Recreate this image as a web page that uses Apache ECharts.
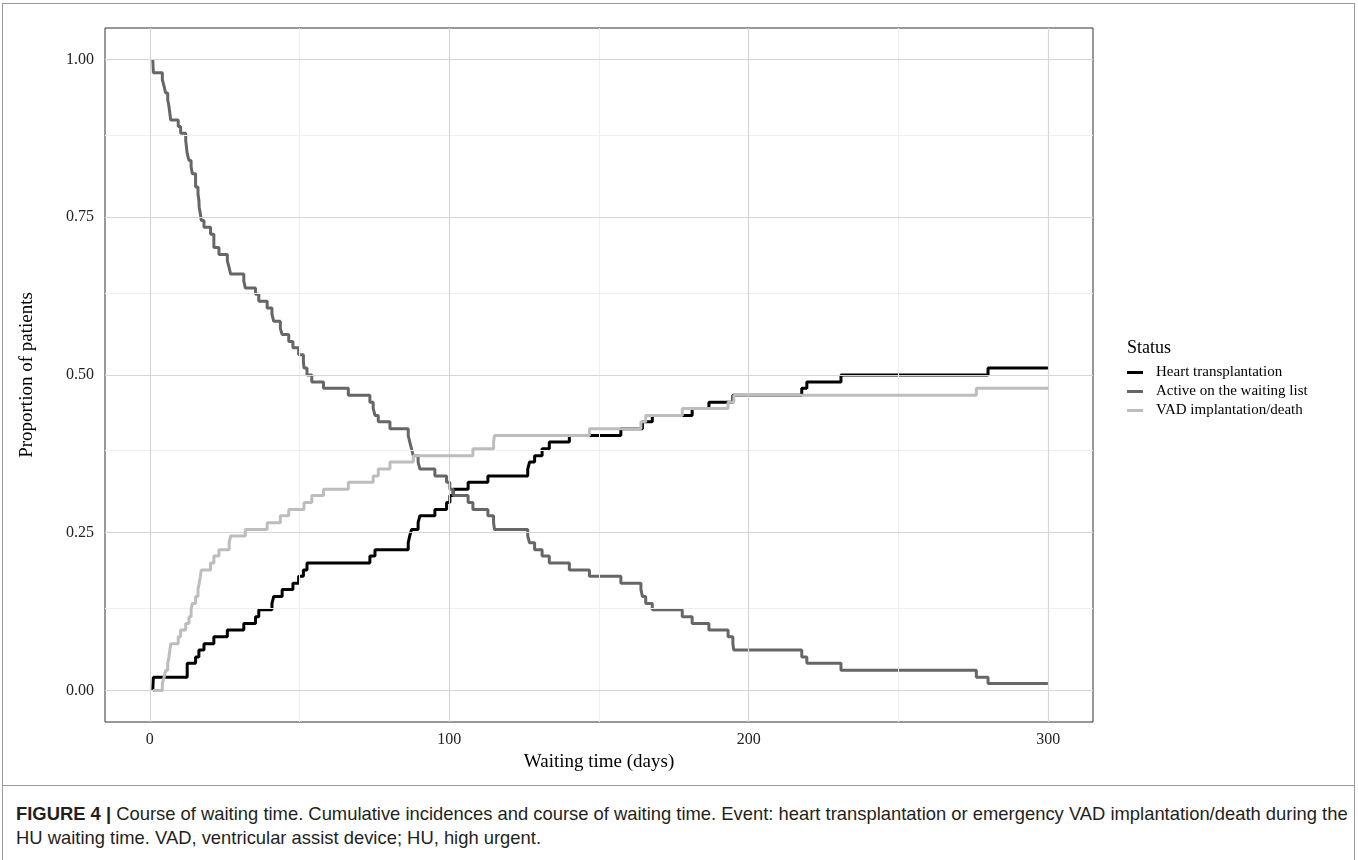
<!DOCTYPE html>
<html>
<head>
<meta charset="utf-8">
<script src="https://cdn.jsdelivr.net/npm/echarts@6/dist/echarts.min.js"></script>
<style>
html, body { margin: 0; padding: 0; background: #fff; }
#page { position: relative; width: 1358px; height: 860px; overflow: hidden; }
#frame { position: absolute; left: 2px; top: 3px; width: 1353px; height: 900px; border: 1px solid #9a9a9a; box-sizing: border-box; }
#sep { position: absolute; left: 2px; top: 785px; width: 1353px; height: 0; border-top: 1px solid #9a9a9a; }
#chart { position: absolute; left: 0; top: 0; width: 1358px; height: 785px; }
#caption { position: absolute; left: 16px; top: 802px; font-family: "Liberation Sans", Arial, sans-serif; font-size: 18.4px; line-height: 24px; color: #231f20; white-space: nowrap; }
#caption b { font-weight: bold; }
</style>
</head>
<body>
<div id="page">
  <div id="frame"></div>
  <div id="sep"></div>
  <div id="chart"></div>
  <div id="caption"><b>FIGURE 4 |</b> Course of waiting time. Cumulative incidences and course of waiting time. Event: heart transplantation or emergency VAD implantation/death during the<br>HU waiting time. VAD, ventricular assist device; HU, high urgent.</div>
</div>
<script>
// step points [day, proportion]
const heartTx = [
  [1, 0], [1.2, 0.021], [12.5, 0.043], [15.3, 0.053], [16.4, 0.064], [18.1, 0.074],
  [21.4, 0.085], [25.9, 0.096], [31.4, 0.106], [35.3, 0.117], [36.4, 0.128], [40.8, 0.138],
  [41.4, 0.149], [44.2, 0.160], [47.8, 0.170], [49.7, 0.181], [51.3, 0.191], [52.5, 0.202],
  [73.5, 0.213], [75.2, 0.223], [86.3, 0.234], [86.8, 0.245], [87.4, 0.255], [89.6, 0.266],
  [90.2, 0.277], [95.2, 0.287], [99.1, 0.298], [100.2, 0.309], [101.3, 0.319], [106.3, 0.330],
  [112.9, 0.340], [126.2, 0.351], [126.8, 0.362], [128.5, 0.372], [131.0, 0.383], [133.4, 0.394],
  [140.1, 0.404], [157.3, 0.415], [164.5, 0.426], [167.8, 0.436], [181.1, 0.447], [186.7, 0.457],
  [194.7, 0.468], [217.7, 0.479], [219.4, 0.489], [230.8, 0.500], [279.9, 0.511], [300, 0.511]
];

const activeList = [
  [1, 1.000], [1.2, 0.979], [4.2, 0.968], [4.8, 0.957], [5.3, 0.947], [6.0, 0.936], [6.4, 0.926],
  [7.0, 0.904], [9.5, 0.894], [10.3, 0.883], [12.0, 0.872], [12.5, 0.851], [13.1, 0.840],
  [13.8, 0.830], [14.2, 0.819], [15.3, 0.798], [16.1, 0.787], [16.4, 0.777], [16.5, 0.766],
  [16.9, 0.755], [17.2, 0.745], [18.1, 0.734], [20.3, 0.723], [21.4, 0.702], [23.1, 0.691],
  [25.9, 0.681], [26.5, 0.670], [27.0, 0.660], [31.4, 0.649], [31.9, 0.638], [35.3, 0.628],
  [36.4, 0.617], [39.2, 0.606], [40.8, 0.596], [41.4, 0.585], [43.6, 0.574], [44.2, 0.564],
  [46.4, 0.553], [47.8, 0.543], [49.7, 0.532], [51.3, 0.521], [51.5, 0.511], [52.5, 0.500],
  [54.1, 0.489], [58.0, 0.479], [66.3, 0.468], [73.5, 0.457], [74.6, 0.447], [75.2, 0.436],
  [76.3, 0.426], [80.2, 0.415], [86.3, 0.404], [86.8, 0.394], [87.4, 0.383], [88.0, 0.372],
  [89.6, 0.362], [90.2, 0.351], [95.2, 0.340], [99.1, 0.330], [100.2, 0.319], [101.3, 0.309],
  [106.3, 0.298], [107.9, 0.287], [112.9, 0.277], [114.8, 0.266], [115.1, 0.255], [126.2, 0.245],
  [126.8, 0.234], [128.5, 0.223], [131.0, 0.213], [133.4, 0.202], [140.1, 0.191], [146.8, 0.181],
  [157.3, 0.170], [164.0, 0.160], [164.5, 0.149], [165.6, 0.138], [167.8, 0.128], [177.8, 0.117],
  [181.1, 0.106], [186.7, 0.096], [193.1, 0.085], [194.7, 0.074], [195.0, 0.064], [217.7, 0.053],
  [219.4, 0.043], [230.8, 0.032], [276.0, 0.021], [279.9, 0.011], [300, 0.011]
];

const vadDeath = [
  [1, 0], [4.2, 0.011], [4.8, 0.021], [5.3, 0.032], [6.0, 0.043], [6.4, 0.053], [7.0, 0.074],
  [9.5, 0.085], [10.3, 0.096], [12.0, 0.106], [13.1, 0.117], [13.8, 0.128], [14.2, 0.138],
  [15.3, 0.149], [16.1, 0.160], [16.5, 0.170], [16.9, 0.181], [17.2, 0.191], [20.3, 0.202],
  [21.4, 0.213], [23.1, 0.223], [26.5, 0.234], [27.0, 0.245], [31.9, 0.255], [39.2, 0.266],
  [43.6, 0.277], [46.4, 0.287], [51.5, 0.298], [54.1, 0.309], [58.0, 0.319], [66.3, 0.330],
  [74.6, 0.340], [76.3, 0.351], [80.2, 0.362], [88.0, 0.372], [107.9, 0.383], [114.8, 0.394],
  [115.1, 0.404], [146.8, 0.415], [164.0, 0.426], [165.6, 0.436], [177.8, 0.447], [193.1, 0.457],
  [195.0, 0.468], [276.0, 0.479], [300, 0.479]
];

const seriesNames = ['Heart transplantation', 'Active on the waiting list', 'VAD implantation/death'];
const xTicks = [0, 100, 200, 300];
const xMinor = [50, 150, 250];
const yTicks = [0, 0.25, 0.5, 0.75, 1];
const yMinor = [0.125, 0.375, 0.625, 0.875];

const serif = '"Liberation Serif", "Times New Roman", serif';

const gridLines = [];
xMinor.forEach(v => gridLines.push({ xAxis: v, lineStyle: { color: '#eeeeee', width: 1, type: 'solid' } }));
yMinor.forEach(v => gridLines.push({ yAxis: v, lineStyle: { color: '#eeeeee', width: 1, type: 'solid' } }));
xTicks.forEach(v => gridLines.push({ xAxis: v, lineStyle: { color: '#d6d6d6', width: 1.2, type: 'solid' } }));
yTicks.forEach(v => gridLines.push({ yAxis: v, lineStyle: { color: '#d6d6d6', width: 1.2, type: 'solid' } }));

function stepSeries(name, data, color, z) {
    return {
        name: name,
        type: 'line',
        step: 'end',
        data: data,
        symbol: 'none',
        showSymbol: false,
        z: z,
        color: color,
        lineStyle: { width: 3, color: color, cap: 'butt' },
        itemStyle: { color: color }
    };
}

const option = {
    animation: false,
    title: {
        text: 'Status',
        left: 1127,
        top: 339,
        padding: 0,
        textStyle: { fontFamily: serif, fontSize: 18, fontWeight: 'normal', color: '#000' }
    },
    legend: {
        data: seriesNames,
        orient: 'vertical',
        left: 1127,
        top: 365,
        padding: 0,
        icon: 'rect',
        itemWidth: 16,
        itemHeight: 3,
        itemGap: 4,
        textStyle: { fontFamily: serif, fontSize: 15, color: '#000', lineHeight: 15, padding: [0, 0, 0, 8] }
    },
    grid: {
        left: 105,
        top: 28,
        width: 988,
        height: 694,
        show: true,
        borderColor: '#333',
        borderWidth: 1,
        backgroundColor: '#fff'
    },
    xAxis: {
        type: 'value',
        min: -14.95,
        max: 314.95,
        name: 'Waiting time (days)',
        nameLocation: 'middle',
        nameGap: 29,
        nameTextStyle: { fontFamily: serif, fontSize: 19, color: '#000' },
        axisLine: { show: false },
        axisTick: { show: true, length: 4, customValues: xTicks, lineStyle: { color: '#333' } },
        axisLabel: { customValues: xTicks, margin: 10, fontFamily: serif, fontSize: 16, color: '#222' },
        splitLine: { show: false }
    },
    yAxis: {
        type: 'value',
        min: -0.05,
        max: 1.05,
        name: 'Proportion of patients',
        nameLocation: 'middle',
        nameGap: 68,
        nameTextStyle: { fontFamily: serif, fontSize: 19, color: '#000' },
        axisLine: { show: false },
        axisTick: { show: true, length: 4, customValues: yTicks, lineStyle: { color: '#333' } },
        axisLabel: { customValues: yTicks, margin: 11, fontFamily: serif, fontSize: 16, color: '#222',
            formatter: v => v.toFixed(2) },
        splitLine: { show: false }
    },
    series: [
        {
            type: 'line',
            data: [],
            silent: true,
            z: 1,
            markLine: {
                silent: true,
                symbol: ['none', 'none'],
                label: { show: false },
                emphasis: { disabled: true },
                data: gridLines
            }
        },
        stepSeries(seriesNames[0], heartTx, '#000000', 3),
        stepSeries(seriesNames[1], activeList, '#666666', 4),
        stepSeries(seriesNames[2], vadDeath, '#bdbdbd', 5)
    ]
};

const chart = echarts.init(document.getElementById('chart'));
chart.setOption(option);
</script>
</body>
</html>
